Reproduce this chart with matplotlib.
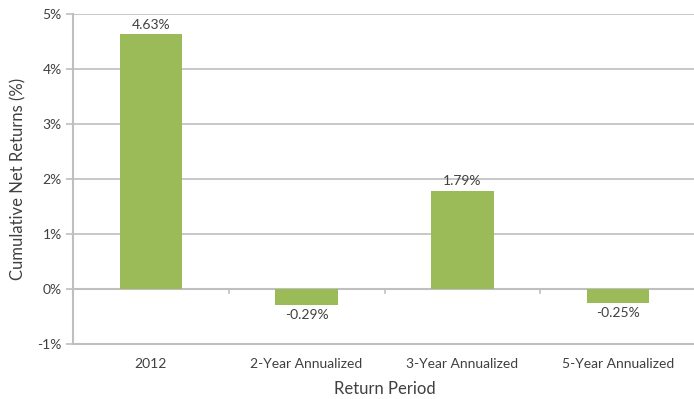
import matplotlib
matplotlib.use("Agg")
import matplotlib.pyplot as plt

categories = ["2012", "2-Year Annualized", "3-Year Annualized", "5-Year Annualized"]
returns = [4.63, -0.29, 1.79, -0.25]
y_ticks = [-1, 0, 1, 2, 3, 4, 5]
y_tick_labels = ["-1%", "0%", "1%", "2%", "3%", "4%", "5%"]

bar_color = "#9BBB59"
grid_color = "#BFBFBF"
text_color = "#404040"

plt.rcParams["font.family"] = ["Lato", "DejaVu Sans"]

fig = plt.figure(figsize=(6.94, 3.99), dpi=100)
ax = fig.add_axes([73 / 694, 1 - 344 / 399, (696 - 73) / 694, (344 - 14) / 399])

x = list(range(len(categories)))
ax.bar(x, returns, width=0.4, color=bar_color, zorder=3)

ax.set_xlim(-0.5, len(categories) - 0.5)
ax.set_ylim(-1, 5)
ax.set_yticks(y_ticks)
ax.set_yticklabels(y_tick_labels)
ax.yaxis.grid(True, color=grid_color, linewidth=1.2, zorder=0)
ax.set_axisbelow(True)

# category labels without ticks; boundary ticks are drawn on the zero line
ax.set_xticks(x)
ax.set_xticklabels(categories)
ax.tick_params(axis="x", length=0, pad=10, labelsize=10, colors=text_color)
ax.tick_params(axis="y", length=5, width=1.2, color=grid_color, labelsize=10,
               labelcolor=text_color, pad=3)

ax.axhline(0, color=grid_color, linewidth=1.5, zorder=2)
for b in [0.5, 1.5, 2.5]:
    ax.plot([b, b], [0, -0.07], color=grid_color, linewidth=1.2, zorder=2)

for side in ["top", "right"]:
    ax.spines[side].set_visible(False)
for side in ["left", "bottom"]:
    ax.spines[side].set_color(grid_color)
    ax.spines[side].set_linewidth(1.5)

for xi, v in zip(x, returns):
    if v >= 0:
        ax.text(xi, v + 0.06, f"{v:.2f}%", ha="center", va="bottom",
                fontsize=10, color=text_color)
    else:
        ax.text(xi, v - 0.08, f"{v:.2f}%", ha="center", va="top",
                fontsize=10, color=text_color)

ax.set_ylabel("Cumulative Net Returns (%)", fontsize=12, color=text_color, labelpad=8)
ax.set_xlabel("Return Period", fontsize=12, color=text_color, labelpad=8)

fig.savefig("out.png", dpi=100)
